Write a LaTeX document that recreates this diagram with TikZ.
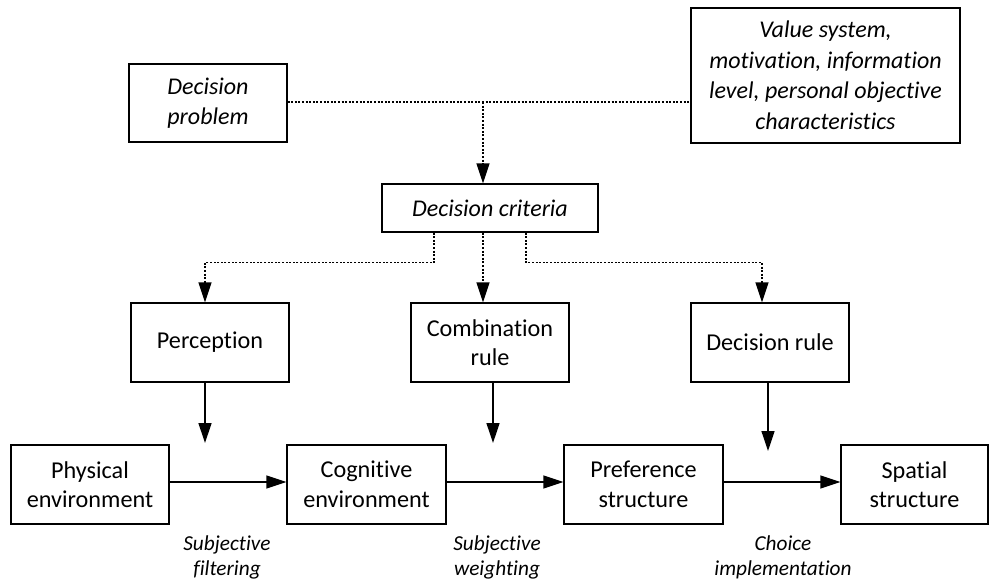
\documentclass[tikz,border=0pt]{standalone}
\usepackage{fontspec}
\setmainfont{Carlito}[Ligatures=NoCommon]
\usetikzlibrary{arrows.meta}
\begin{document}
\begin{tikzpicture}[x=1pt,y=-1pt,
  box/.style={draw,line width=1.3pt,inner sep=0pt,align=center,
    font=\fontsize{24.2}{29.5}\selectfont},
  ibox/.style={box,font=\fontsize{24}{30.5}\selectfont\itshape},
  lbl/.style={inner sep=0pt,align=center,font=\fontsize{21.3}{25}\selectfont\itshape},
  conn/.style={line width=1.3pt,-{Triangle[length=20pt,width=13pt]}},
  dotconn/.style={line width=1.4pt,dash pattern=on 2pt off 1.6pt,-{Triangle[length=20pt,width=13pt]}},
  dotline/.style={line width=1.4pt,dash pattern=on 2pt off 1.6pt}]
\useasboundingbox (0,0) rectangle (990,584);
% top row
\node[ibox,minimum width=158pt,minimum height=78pt] (dp) at (208,103) {Decision\\problem};
\node[ibox,minimum width=269pt,minimum height=135pt] (vs) at (825.5,75.5) {Value system,\\motivation, information\\level, personal objective\\characteristics};
\node[ibox,minimum width=216pt,minimum height=48pt] (dc) at (490,208) {Decision criteria};
% middle row
\node[box,minimum width=158pt,minimum height=79pt] (perc) at (210,342.5) {Perception};
\node[box,minimum width=158pt,minimum height=79pt] (comb) at (490,342.5) {Combination\\rule};
\node[box,minimum width=158pt,minimum height=79pt] (drule) at (770,342.5) {Decision rule};
% bottom row
\node[box,minimum width=158pt,minimum height=79pt] (phys) at (90,484.5) {Physical\\environment};
\node[box,minimum width=159pt,minimum height=79pt] (cog) at (366.5,484.5) {Cognitive\\environment};
\node[box,minimum width=159pt,minimum height=79pt] (pref) at (643.5,484.5) {Preference\\structure};
\node[box,minimum width=147pt,minimum height=79pt] (spat) at (914.5,484.5) {Spatial\\structure};
% labels
\node[lbl] (l1) at (227,557.5) {Subjective\\filtering};
\node[lbl] (l2) at (497,557.5) {Subjective\\weighting};
\node[lbl] (l3) at (783,557.5) {Choice\\implementation};
% coordinates
\coordinate (j) at (483,102);
\coordinate (e1) at (205,443);
\coordinate (e2) at (493,443);
\coordinate (e3) at (768,451);
% top dotted connectors
\draw[dotline] (dp.east |- j) -- (vs.west |- j);
\draw[dotconn] (j) -- (j |- dc.north);
% criteria to middle row
\draw[dotconn] ([xshift=-56pt]dc.south) -- ++(0,30) -| ([xshift=-5pt]perc.north);
\draw[dotconn] ([xshift=-7pt]dc.south) -- ([xshift=-7pt]comb.north);
\draw[dotconn] ([xshift=36pt]dc.south) -- ++(0,30) -| ([xshift=-8pt]drule.north);
% middle to bottom (free ends)
\draw[conn] (perc.south -| e1) -- (e1);
\draw[conn] (comb.south -| e2) -- (e2);
\draw[conn] (drule.south -| e3) -- (e3);
% bottom chain
\draw[conn] ([yshift=2.5pt]phys.east) -- ([yshift=2.5pt]cog.west);
\draw[conn] ([yshift=2.5pt]cog.east) -- ([yshift=2.5pt]pref.west);
\draw[conn] ([yshift=2.5pt]pref.east) -- ([yshift=2.5pt]spat.west);
\end{tikzpicture}
\end{document}
